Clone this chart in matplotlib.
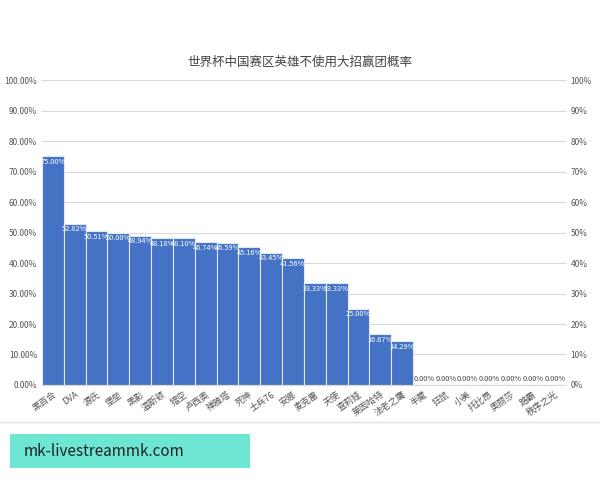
import matplotlib.pyplot as plt
from matplotlib.ticker import FuncFormatter
import matplotlib.patches as mpatches

plt.rcParams['font.family'] = ['Noto Sans CJK SC', 'DejaVu Sans']

heroes = ['黑百合', 'DVA', '源氏', '堡垒', '黑影', '温斯顿', '猎空', '卢西奥', '禅雅塔', '死神',
          '士兵76', '安娜', '麦克雷', '天使', '查莉娅', '莱因哈特', '法老之鹰', '半藏', '狂鼠',
          '小美', '托比昂', '奥丽莎', '路霸', '秩序之光']
rates = [75.00, 52.82, 50.51, 50.00, 48.94, 48.18, 48.10, 46.74, 46.59, 45.16,
         43.45, 41.56, 33.33, 33.33, 25.00, 16.67, 14.29, 0, 0, 0, 0, 0, 0, 0]

fig = plt.figure(figsize=(6, 4.8), dpi=100)
ax = fig.add_axes([0.07, 0.198, 0.873, 0.635])
x = range(len(heroes))
ax.bar(x, rates, width=1.0, color='#4472C4', edgecolor='#dfe8f5', linewidth=0.8, zorder=2)
for i, v in enumerate(rates):
    if v > 0:
        ax.text(i, v - 0.5, f'{v:.2f}%', ha='center', va='top', fontsize=5.3, color='white', zorder=3)
    else:
        ax.text(i, 0.5, f'{v:.2f}%', ha='center', va='bottom', fontsize=5.3, color='#444444', zorder=3)

ax.set_xlim(-0.5, len(heroes) - 0.5)
ax.set_ylim(0, 100)
ax.set_yticks(range(0, 101, 10))
ax.yaxis.set_major_formatter(FuncFormatter(lambda v, p: f'{v:.2f}%'))
ax.tick_params(axis='y', labelsize=6, colors='#555555', length=0)
ax.set_xticks(list(x))
ax.set_xticklabels(heroes, rotation=35, ha='right', fontsize=6.5, color='#555555', rotation_mode='anchor')
ax.tick_params(axis='x', length=0)
ax.grid(axis='y', color='#d9d9d9', linewidth=0.8, zorder=0)
for s in ['top', 'left', 'right']:
    ax.spines[s].set_visible(False)
ax.spines['bottom'].set_color('#d9d9d9')

ax2 = ax.twinx()
ax2.set_ylim(0, 100)
ax2.set_yticks(range(0, 101, 10))
ax2.yaxis.set_major_formatter(FuncFormatter(lambda v, p: f'{v:.0f}%'))
ax2.tick_params(axis='y', labelsize=6, colors='#555555', length=0)
for s in ['top', 'left', 'right', 'bottom']:
    ax2.spines[s].set_visible(False)

fig.text(0.5, 0.862, '世界杯中国赛区英雄不使用大招赢团概率', ha='center', fontsize=9, color='#444444')

fig.add_artist(plt.Line2D([0, 1], [0.12, 0.12], color='#e0e0e0', linewidth=1))
fig.patches.append(mpatches.Rectangle((0.017, 0.025), 0.4, 0.07, transform=fig.transFigure,
                                      facecolor='#6ee6d4', edgecolor='none'))
fig.text(0.04, 0.06, 'mk-livestreammk.com', fontsize=11, va='center', color='#222222')

fig.savefig('out.png')
